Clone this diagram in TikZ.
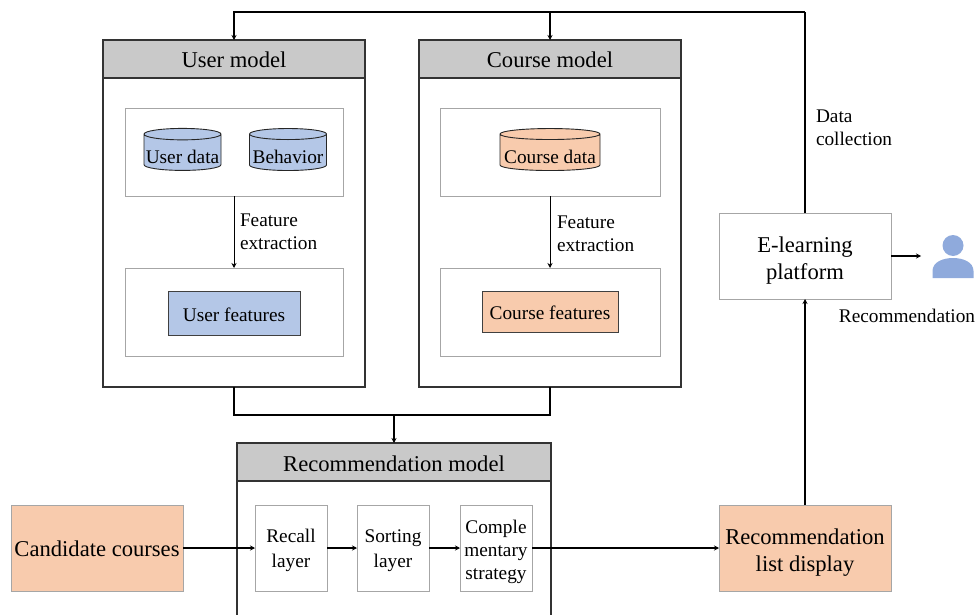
\documentclass[tikz,border=0pt]{standalone}
\usepackage{fontspec}
\setmainfont{Liberation Serif}
\usetikzlibrary{arrows.meta,shapes.geometric}
\definecolor{hdr}{HTML}{C9C9C9}
\definecolor{bluef}{HTML}{B4C7E7}
\definecolor{orf}{HTML}{F8CBAD}
\definecolor{inb}{HTML}{A6A6A6}
\definecolor{pers}{HTML}{8FAADC}
\newcommand{\bigfs}{\fontsize{22.6}{27}\selectfont}
\newcommand{\medfs}{\fontsize{19.3}{23}\selectfont}
\newcommand{\dn}[1]{\rule{0pt}{#1pt}}
\tikzset{
  x=1pt,y=-1pt,
  every node/.style={inner sep=0pt,outer sep=0pt,text=black},
  outerbox/.style={draw=black!80,line width=1.2pt,rectangle},
  headbox/.style={draw=black!80,line width=1.2pt,fill=hdr,minimum height=38pt,font=\bigfs,rectangle},
  innerbox/.style={draw=inb,line width=1pt,fill=white,rectangle},
  cyl/.style={cylinder,shape border rotate=90,draw=black!85,line width=0.9pt,fill=bluef,minimum height=42pt,font=\medfs},
  featbox/.style={draw=black!75,line width=1pt,font=\medfs,rectangle},
  laybox/.style={innerbox,minimum width=72pt,minimum height=86pt,font=\medfs,align=center},
  bigbox/.style={draw=inb,line width=1pt,fill=orf,minimum width=172pt,minimum height=86pt,font=\bigfs,align=center,rectangle},
  conn/.style={draw=black,line width=1.3pt,-{Stealth[length=5pt,width=5pt]}},
  thin conn/.style={draw=black,line width=1pt,-{Stealth[length=5pt,width=5pt]}},
  thick line/.style={draw=black,line width=1.7pt},
  lab/.style={font=\medfs,align=left,anchor=west},
}
\begin{document}
\begin{tikzpicture}
\useasboundingbox (0,0) rectangle (980,615);
% user model
\node[outerbox,minimum width=262pt,minimum height=347pt] (umbody) at (234,213.5) {};
\node[headbox,minimum width=262pt] (umhead) at (234,59) {\dn{17}User model};
\node[innerbox,minimum width=218pt,minimum height=87pt] (umin1) at (234,152.5) {};
\node[innerbox,minimum width=218pt,minimum height=88pt] (umin2) at (234,312) {};
\node[cyl,aspect=0.156,minimum width=77pt] (udata) at (182.5,152.5) {\dn{22}User data};
\node[cyl,aspect=0.156,minimum width=77pt] (beh) at (288,152.5) {\dn{22}Behavior};
\node[featbox,fill=bluef,minimum width=132pt,minimum height=44pt] (ufeat) at (234,313) {\dn{17}User features};
\node[lab] (ulab) at (240,232) {Feature\\extraction};
% course model
\node[outerbox,minimum width=262pt,minimum height=347pt] (cmbody) at (550,213.5) {};
\node[headbox,minimum width=262pt] (cmhead) at (550,59) {\dn{17}Course model};
\node[innerbox,minimum width=220pt,minimum height=87pt] (cmin1) at (550,152.5) {};
\node[innerbox,minimum width=220pt,minimum height=88pt] (cmin2) at (550,312) {};
\node[cyl,aspect=0.12,fill=orf,minimum width=100pt] (cdata) at (550,152.5) {\dn{22}Course data};
\node[featbox,fill=orf,minimum width=136pt,minimum height=41pt] (cfeat) at (550,311.5) {\dn{17}Course features};
\node[lab] (clab) at (557,234) {Feature\\extraction};
% recommendation model
\node[headbox,minimum width=314pt] (rmhead) at (394,462) {\dn{19}Recommendation model};
\coordinate (rmbl) at (237,615);
\coordinate (rmbr) at (551,615);
\draw[draw=black!80,line width=1.2pt] (rmhead.south west) -- (rmbl);
\draw[draw=black!80,line width=1.2pt] (rmhead.south east) -- (rmbr);
\node[laybox] (recall) at (291,548) {\dn{18}Recall\\[2pt]layer};
\node[laybox] (sort) at (393,548) {\dn{18}Sorting\\[2pt]layer};
\node[laybox] (compl) at (496,548) {\dn{21}Comple\\mentary\\strategy};
\node[bigbox] (cand) at (97,548) {\dn{18}Candidate courses};
\node[bigbox] (rlist) at (805,548) {\dn{24}Recommendation\\list display};
\node[innerbox,minimum width=172pt,minimum height=86pt,font=\bigfs,align=center] (elearn) at (805,256) {\dn{24}E-learning\\platform};
% person
\fill[pers] (953,245.5) circle (10.5);
\fill[pers] (932.5,278) -- (932.5,271) .. controls (932.5,262) and (943,258) .. (953,258) .. controls (963,258) and (973.5,262) .. (973.5,271) -- (973.5,278) -- cycle;
\coordinate (persl) at (921,256);
\node[font=\medfs,anchor=center] (reclab) at (907,315.5) {Recommendation};
\node[lab] (dlab) at (816,127.5) {Data\\collection};
% connectors
\coordinate (topr) at (805,12);
\draw[thin conn] (umin1.south) -- (umin2.north);
\draw[thin conn] (cmin1.south) -- (cmin2.north);
\coordinate (merge) at (394,415);
\draw[thick line] (umbody.south) |- (merge);
\draw[thick line] (cmbody.south) |- (merge);
\draw[conn] (merge) -- (rmhead.north);
\draw[thick line] (elearn.north) -- (topr);
\draw[conn] (topr) -| (umhead.north);
\draw[conn] (topr) -| (cmhead.north);
\draw[conn] (cand.east) -- (recall.west);
\draw[conn] (recall.east) -- (sort.west);
\draw[conn] (sort.east) -- (compl.west);
\draw[conn] (compl.east) -- (rlist.west);
\draw[conn] (rlist.north) -- (elearn.south);
\draw[conn] (elearn.east) -- (persl);
\end{tikzpicture}
\end{document}
